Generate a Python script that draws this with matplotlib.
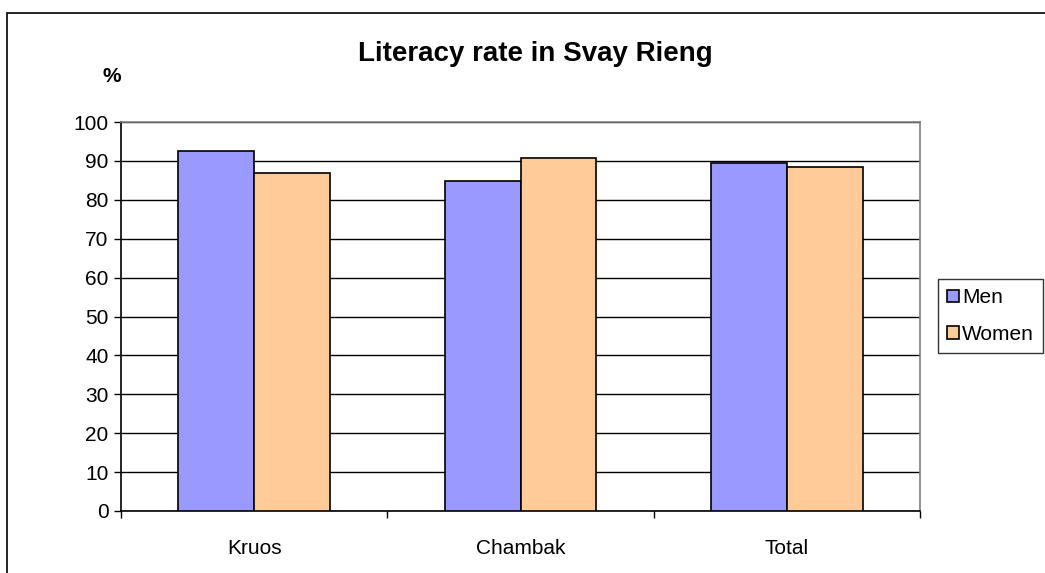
import matplotlib
matplotlib.use("Agg")
import matplotlib.pyplot as plt
import numpy as np
from matplotlib.patches import Rectangle

plt.rcParams['font.family'] = ['Liberation Sans', 'DejaVu Sans']

categories = ["Kruos", "Chambak", "Total"]
men = [92.5, 84.9, 89.4]
women = [86.8, 90.7, 88.5]
series_names = ["Men", "Women"]
yticks = [0, 10, 20, 30, 40, 50, 60, 70, 80, 90, 100]

men_color = "#9999ff"
women_color = "#ffcc99"

W, H = 1045, 573
fig = plt.figure(figsize=(W / 100, H / 100), dpi=100)

# outer chart border (only the top and left edges fall inside the image)
fig.patches.append(Rectangle((7 / W, -0.2), 1.2, 0.2 + (H - 13) / H, transform=fig.transFigure,
                             fill=False, edgecolor="black", linewidth=1.2, zorder=0))

ax = fig.add_axes([121 / W, (H - 511) / H, (920 - 121) / W, (511 - 122) / H])

x = np.arange(len(categories))
bw = 0.285
ax.bar(x - bw / 2, men, bw, color=men_color, edgecolor="black", linewidth=1.2,
       label=series_names[0], zorder=3)
ax.bar(x + bw / 2, women, bw, color=women_color, edgecolor="black", linewidth=1.2,
       label=series_names[1], zorder=3)

ax.set_xlim(-0.5, len(categories) - 0.5)
ax.set_ylim(0, 100)
ax.set_yticks(yticks)
ax.set_yticklabels([str(v) for v in yticks], fontsize=15)
ax.set_xticks(x)
ax.set_xticklabels(categories, fontsize=15)
ax.tick_params(axis="x", length=0, pad=20)
ax.set_xticks(np.arange(len(categories) + 1) - 0.5, minor=True)
ax.tick_params(axis="x", which="minor", length=5, width=1, direction="out")
ax.tick_params(axis="y", length=5, width=1, direction="out", pad=4)

ax.grid(axis="y", color="black", linewidth=1.0, zorder=1)
ax.set_axisbelow(True)
for side in ("top", "right"):
    ax.spines[side].set_color("#808080")
    ax.spines[side].set_linewidth(1.2)
for side in ("left", "bottom"):
    ax.spines[side].set_color("black")
    ax.spines[side].set_linewidth(1.2)

fig.text(535 / W, 1 - 54 / H, "Literacy rate in Svay Rieng", ha="center", va="center",
         fontsize=20, fontweight="bold")
fig.text(112 / W, 1 - 76 / H, "%", ha="center", va="center", fontsize=15, fontweight="bold")

leg = fig.legend(loc="upper left", bbox_to_anchor=(938 / W, 1 - 279 / H),
                 fontsize=15, frameon=True, fancybox=False, handlelength=0.55,
                 handleheight=0.55, handletextpad=0.15, borderpad=0.45, labelspacing=0.85,
                 borderaxespad=0)
leg.get_frame().set_edgecolor("black")
leg.get_frame().set_linewidth(1.0)

fig.savefig("out.png", dpi=100)
